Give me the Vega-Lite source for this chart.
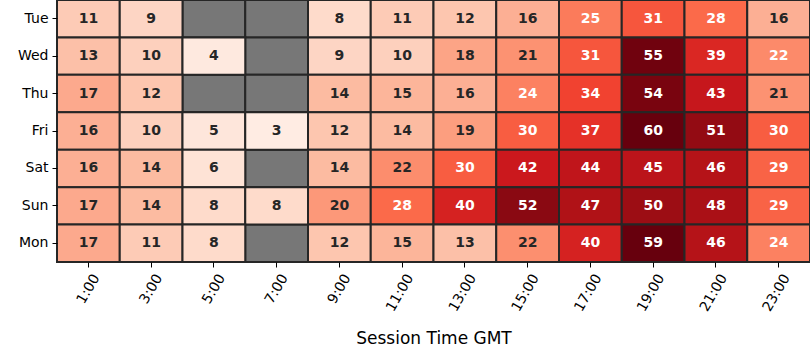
{
"$schema":"https://vega.github.io/schema/vega-lite/v6.json",
"width":753,"height":262,
"autosize":{"type":"none"},
"padding":{"left":57,"top":0,"right":0,"bottom":98},
"background":"white",
"config":{"view":{"stroke":null},"font":"DejaVu Sans"},
"data":{"values":[
{"day":"Tue","time":"1:00","count":11},{"day":"Tue","time":"3:00","count":9},{"day":"Tue","time":"5:00","count":null},{"day":"Tue","time":"7:00","count":null},{"day":"Tue","time":"9:00","count":8},{"day":"Tue","time":"11:00","count":11},{"day":"Tue","time":"13:00","count":12},{"day":"Tue","time":"15:00","count":16},{"day":"Tue","time":"17:00","count":25},{"day":"Tue","time":"19:00","count":31},{"day":"Tue","time":"21:00","count":28},{"day":"Tue","time":"23:00","count":16},
{"day":"Wed","time":"1:00","count":13},{"day":"Wed","time":"3:00","count":10},{"day":"Wed","time":"5:00","count":4},{"day":"Wed","time":"7:00","count":null},{"day":"Wed","time":"9:00","count":9},{"day":"Wed","time":"11:00","count":10},{"day":"Wed","time":"13:00","count":18},{"day":"Wed","time":"15:00","count":21},{"day":"Wed","time":"17:00","count":31},{"day":"Wed","time":"19:00","count":55},{"day":"Wed","time":"21:00","count":39},{"day":"Wed","time":"23:00","count":22.4},
{"day":"Thu","time":"1:00","count":17},{"day":"Thu","time":"3:00","count":12},{"day":"Thu","time":"5:00","count":null},{"day":"Thu","time":"7:00","count":null},{"day":"Thu","time":"9:00","count":14},{"day":"Thu","time":"11:00","count":15},{"day":"Thu","time":"13:00","count":16},{"day":"Thu","time":"15:00","count":24},{"day":"Thu","time":"17:00","count":34},{"day":"Thu","time":"19:00","count":54},{"day":"Thu","time":"21:00","count":43},{"day":"Thu","time":"23:00","count":21},
{"day":"Fri","time":"1:00","count":16},{"day":"Fri","time":"3:00","count":10},{"day":"Fri","time":"5:00","count":5},{"day":"Fri","time":"7:00","count":3},{"day":"Fri","time":"9:00","count":12},{"day":"Fri","time":"11:00","count":14},{"day":"Fri","time":"13:00","count":19},{"day":"Fri","time":"15:00","count":30},{"day":"Fri","time":"17:00","count":37},{"day":"Fri","time":"19:00","count":60},{"day":"Fri","time":"21:00","count":51},{"day":"Fri","time":"23:00","count":30},
{"day":"Sat","time":"1:00","count":16},{"day":"Sat","time":"3:00","count":14},{"day":"Sat","time":"5:00","count":6},{"day":"Sat","time":"7:00","count":null},{"day":"Sat","time":"9:00","count":14},{"day":"Sat","time":"11:00","count":21.8},{"day":"Sat","time":"13:00","count":30},{"day":"Sat","time":"15:00","count":42},{"day":"Sat","time":"17:00","count":44},{"day":"Sat","time":"19:00","count":45},{"day":"Sat","time":"21:00","count":46},{"day":"Sat","time":"23:00","count":29},
{"day":"Sun","time":"1:00","count":17},{"day":"Sun","time":"3:00","count":14},{"day":"Sun","time":"5:00","count":8},{"day":"Sun","time":"7:00","count":8},{"day":"Sun","time":"9:00","count":20},{"day":"Sun","time":"11:00","count":28},{"day":"Sun","time":"13:00","count":40},{"day":"Sun","time":"15:00","count":52},{"day":"Sun","time":"17:00","count":47},{"day":"Sun","time":"19:00","count":50},{"day":"Sun","time":"21:00","count":48},{"day":"Sun","time":"23:00","count":29},
{"day":"Mon","time":"1:00","count":17},{"day":"Mon","time":"3:00","count":11},{"day":"Mon","time":"5:00","count":8},{"day":"Mon","time":"7:00","count":null},{"day":"Mon","time":"9:00","count":12},{"day":"Mon","time":"11:00","count":15},{"day":"Mon","time":"13:00","count":13},{"day":"Mon","time":"15:00","count":21.6},{"day":"Mon","time":"17:00","count":40},{"day":"Mon","time":"19:00","count":59},{"day":"Mon","time":"21:00","count":46},{"day":"Mon","time":"23:00","count":24}
]},
"encoding":{
"x":{"field":"time","type":"ordinal","sort":["1:00","3:00","5:00","7:00","9:00","11:00","13:00","15:00","17:00","19:00","21:00","23:00"],
 "scale":{"paddingInner":0,"paddingOuter":0},
 "axis":{"title":"Session Time GMT","titleFontSize":17,"titleFontWeight":"normal","titleColor":"black","titlePadding":17,
  "labelAngle":-60,"labelAlign":"right","labelBaseline":"middle","labelFontSize":14,"labelColor":"black","labelOffset":8,"labelPadding":8,
  "domain":false,"ticks":true,"tickSize":5,"tickColor":"black","tickWidth":1,"grid":false}},
"y":{"field":"day","type":"ordinal","sort":["Tue","Wed","Thu","Fri","Sat","Sun","Mon"],
 "scale":{"paddingInner":0,"paddingOuter":0},
 "axis":{"title":null,"labelFontSize":14,"labelColor":"black","labelPadding":4,"domain":false,"ticks":true,"tickSize":5,"tickColor":"black","tickWidth":1,"grid":false}}
},
"layer":[
{"mark":{"type":"rect","fill":"#777777","stroke":"#262626","strokeWidth":2}},
{"transform":[{"filter":"isValid(datum.count)"}],
 "mark":{"type":"rect","stroke":"#262626","strokeWidth":2},
 "encoding":{"color":{"field":"count","type":"quantitative","legend":null,
  "scale":{"domain":[0,7,14,21,28,35,42,49,56],"range":["#fff5f0","#fee0d2","#fcbba1","#fc9272","#fb6a4a","#ef3b2c","#cb181d","#a50f15","#67000d"],"interpolate":"rgb","clamp":true}}}},
{"transform":[{"filter":"isValid(datum.count)"}],
 "mark":{"type":"text","fontSize":14,"fontWeight":"bold","font":"DejaVu Sans"},
 "encoding":{"text":{"field":"count","type":"quantitative","format":".0f"},
  "color":{"condition":{"test":"datum.count >= 22","value":"white"},"value":"#262626"}}}
]
}
